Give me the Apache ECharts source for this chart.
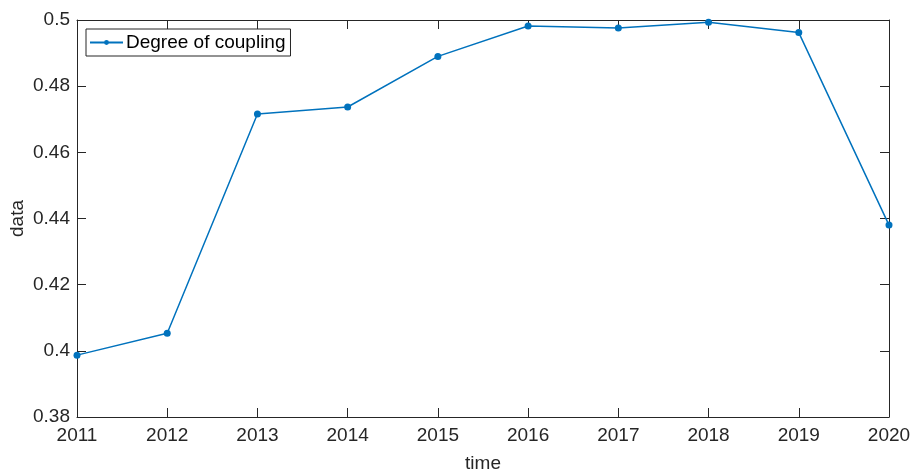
<!DOCTYPE html>
<html>
<head>
<meta charset="utf-8">
<script src="https://cdn.jsdelivr.net/npm/echarts@6/dist/echarts.min.js"></script>
<style>
  html, body { margin: 0; padding: 0; background: #fff; }
  #chart { width: 911px; height: 470px; }
</style>
</head>
<body>
<div id="chart"></div>
<script>
// data
const years = ['2011', '2012', '2013', '2014', '2015', '2016', '2017', '2018', '2019', '2020'];
const coupling = [0.3987, 0.4053, 0.4716, 0.4737, 0.4890, 0.4982, 0.4976, 0.4993, 0.4962, 0.4380];
const seriesName = 'Degree of coupling';

const axisColor = '#262626';
const font = 'Liberation Sans, Arial, sans-serif';

const chart = echarts.init(document.getElementById('chart'));

const option = {
  backgroundColor: '#fff',
  animation: false,
  grid: { left: 77, right: 22, top: 20, bottom: 53, containLabel: false, outerBoundsMode: 'none' },
  legend: {
    data: [seriesName],
    left: 86,
    top: 29,
    orient: 'vertical',
    borderColor: axisColor,
    borderWidth: 1,
    borderRadius: 0,
    padding: [4, 5, 4, 3],
    itemWidth: 33,
    itemHeight: 6,
    itemGap: 0,
    textStyle: { fontFamily: font, fontSize: 19, color: '#000', padding: [0, 0, 0, -2] }
  },
  xAxis: [{
    type: 'category',
    data: years,
    boundaryGap: false,
    name: 'time',
    nameLocation: 'middle',
    nameGap: 37,
    nameTextStyle: { fontFamily: font, fontSize: 19, color: axisColor },
    axisLine: { lineStyle: { color: axisColor, width: 1 } },
    axisTick: { inside: true, length: 9, alignWithLabel: true, lineStyle: { color: axisColor } },
    axisLabel: { fontFamily: font, fontSize: 19, color: axisColor, margin: 9 },
    splitLine: { show: false }
  }, {
    type: 'category',
    data: years,
    boundaryGap: false,
    position: 'top',
    axisLine: { lineStyle: { color: axisColor, width: 1 } },
    axisTick: { inside: true, length: 9, alignWithLabel: true, lineStyle: { color: axisColor } },
    axisLabel: { show: false }
  }],
  yAxis: [{
    type: 'value',
    min: 0.38,
    max: 0.5,
    interval: 0.02,
    name: 'data',
    nameLocation: 'middle',
    nameGap: 50,
    nameMoveOverlap: false,
    nameTextStyle: { fontFamily: font, fontSize: 19, color: axisColor },
    axisLine: { show: true, lineStyle: { color: axisColor, width: 1 } },
    axisTick: { show: true, inside: true, length: 9, lineStyle: { color: axisColor } },
    axisLabel: { fontFamily: font, fontSize: 19, color: axisColor, margin: 7 },
    splitLine: { show: false }
  }, {
    type: 'value',
    min: 0.38,
    max: 0.5,
    interval: 0.02,
    position: 'right',
    axisLine: { show: true, lineStyle: { color: axisColor, width: 1 } },
    axisTick: { show: true, inside: true, length: 9, lineStyle: { color: axisColor } },
    axisLabel: { show: false },
    splitLine: { show: false }
  }],
  series: [{
    name: seriesName,
    type: 'line',
    data: coupling,
    symbol: 'circle',
    symbolSize: 7,
    showSymbol: true,
    lineStyle: { color: '#0072BD', width: 1.5 },
    itemStyle: { color: '#0072BD' }
  }]
};

chart.setOption(option);
window.addEventListener('resize', () => chart.resize());
</script>
</body>
</html>
